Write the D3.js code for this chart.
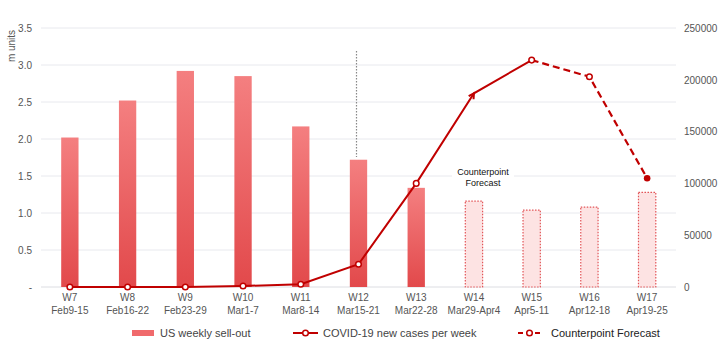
<!DOCTYPE html>
<html><head><meta charset="utf-8">
<script src="https://cdn.jsdelivr.net/npm/d3@7"></script>
<style>body{margin:0;background:#fff;}svg{display:block;font-family:"Liberation Sans",Arial,sans-serif;}</style>
</head><body><svg id="c" width="720" height="357"></svg>
<script>
const weeks = ["W7","W8","W9","W10","W11","W12","W13","W14","W15","W16","W17"];
const dates = ["Feb9-15","Feb16-22","Feb23-29","Mar1-7","Mar8-14","Mar15-21","Mar22-28","Mar29-Apr4","Apr5-11","Apr12-18","Apr19-25"];
const sellOut = [2.02,2.52,2.92,2.85,2.17,1.72,1.34,1.16,1.04,1.08,1.28];
const forecastBar = [false,false,false,false,false,false,false,true,true,true,true];
const covidCases = [0,0,0,1000,2600,22000,100000,187000,219000,203000,105000];
const leftTicks = [0,0.5,1.0,1.5,2.0,2.5,3.0,3.5];
const rightTicks = [0,50000,100000,150000,200000,250000];
const solidEnd = 8; // index where forecast line starts

const svg = d3.select("#c");
const L=41,R=676,T=28,B=287;
const x = d3.scaleBand().domain(weeks).range([L,R]).paddingInner(0.7).paddingOuter(0.35);
const xc = d => x(d)+x.bandwidth()/2;
const y = d3.scaleLinear().domain([0,3.5]).range([B,T]);
const y2 = d3.scaleLinear().domain([0,250000]).range([B,T]);

const defs = svg.append("defs");
const g = defs.append("linearGradient").attr("id","bg").attr("x1",0).attr("y1",0).attr("x2",0).attr("y2",1);
g.append("stop").attr("offset","0%").attr("stop-color","#f47f80");
g.append("stop").attr("offset","100%").attr("stop-color","#e2494b");

// grid
svg.append("g").selectAll("line").data(leftTicks).join("line")
  .attr("x1",L).attr("x2",R).attr("y1",d=>y(d)).attr("y2",d=>y(d))
  .attr("stroke",d=>d===0?"#dcdde2":"#e8e9ee").attr("stroke-width",1);

// left axis
const la = svg.append("g").attr("transform",`translate(${L},0)`)
  .call(d3.axisLeft(y).tickValues(leftTicks).tickSize(0).tickPadding(9).tickFormat(d=>d===0?"-":d3.format(".1f")(d)));
la.select(".domain").remove();
la.selectAll("text").attr("fill","#555").attr("font-size","10px").style("font-family","Liberation Sans, Arial");
svg.append("text").attr("transform","translate(15,46) rotate(-90)").attr("text-anchor","middle")
  .attr("font-size","10px").attr("fill","#555").text("m units");

// right axis
const ra = svg.append("g").attr("transform",`translate(${R},0)`)
  .call(d3.axisRight(y2).tickValues(rightTicks).tickSize(0).tickPadding(8).tickFormat(d3.format("d")));
ra.select(".domain").remove();
ra.selectAll("text").attr("fill","#555").attr("font-size","10px").style("font-family","Liberation Sans, Arial");

// x labels
const xl = svg.append("g").selectAll("text").data(weeks).join("text")
  .attr("x",d=>xc(d)).attr("text-anchor","middle").attr("fill","#555").attr("font-size","10px");
xl.append("tspan").attr("x",d=>xc(d)).attr("y",301).text(d=>d);
xl.append("tspan").attr("x",d=>xc(d)).attr("y",314).text((d,i)=>dates[i]);

// bars
svg.append("g").selectAll("rect").data(weeks).join("rect")
  .attr("x",d=>x(d)).attr("width",x.bandwidth())
  .attr("y",(d,i)=>y(sellOut[i])).attr("height",(d,i)=>B-y(sellOut[i]))
  .attr("fill",(d,i)=>forecastBar[i]?"#fde3e3":"url(#bg)")
  .attr("stroke",(d,i)=>forecastBar[i]?"#e25558":"none")
  .attr("stroke-width",1.2).attr("stroke-dasharray",(d,i)=>forecastBar[i]?"1.5,1.5":null);

// dotted vertical line at W12
svg.append("line").attr("x1",xc("W12")-2).attr("x2",xc("W12")-2).attr("y1",51).attr("y2",157)
  .attr("stroke","#888").attr("stroke-width",1.2).attr("stroke-dasharray","1.5,1.5");

// annotation
const ann = svg.append("g");
ann.append("rect").attr("x",452).attr("y",164).attr("width",62).attr("height",26).attr("fill","#fff");
ann.append("text").attr("x",xc("W14")+9).attr("y",175).attr("text-anchor","middle").attr("font-size","9px").attr("fill","#111").text("Counterpoint");
ann.append("text").attr("x",xc("W14")+9).attr("y",186).attr("text-anchor","middle").attr("font-size","9px").attr("fill","#111").text("Forecast");

// lines
const pts = weeks.map((w,i)=>[xc(w),y2(covidCases[i])]);
const line = d3.line();
const red = "#c00000";
svg.append("path").attr("d",line(pts.slice(0,solidEnd+1))).attr("fill","none").attr("stroke",red).attr("stroke-width",2);
svg.append("path").attr("d",line(pts.slice(solidEnd))).attr("fill","none").attr("stroke",red).attr("stroke-width",2.2).attr("stroke-dasharray","7,4");

// markers
pts.forEach((p,i)=>{
  if(i===7){
    const a = Math.atan2(p[1]-pts[6][1], p[0]-pts[6][0]);
    const s=6;
    const p1=[p[0]-s*Math.cos(a-0.5),p[1]-s*Math.sin(a-0.5)];
    const p2=[p[0]-s*Math.cos(a+0.5),p[1]-s*Math.sin(a+0.5)];
    svg.append("path").attr("d",`M${p1}L${p}L${p2}`).attr("fill","none").attr("stroke",red).attr("stroke-width",2);
  } else if(i===10){
    svg.append("circle").attr("cx",p[0]).attr("cy",p[1]).attr("r",3.3).attr("fill",red);
  } else {
    svg.append("circle").attr("cx",p[0]).attr("cy",p[1]).attr("r",2.8).attr("fill","#fff").attr("stroke",red).attr("stroke-width",1.5);
  }
});

// legend
const lg = svg.append("g").attr("font-size","11px").attr("fill","#444");
lg.append("rect").attr("x",132).attr("y",330).attr("width",22).attr("height",6).attr("fill","#f06a6c");
lg.append("text").attr("x",160).attr("y",337).attr("fill","#444").text("US weekly sell-out");
lg.append("line").attr("x1",293).attr("x2",318).attr("y1",333).attr("y2",333).attr("stroke",red).attr("stroke-width",2);
lg.append("circle").attr("cx",305.5).attr("cy",333).attr("r",2.8).attr("fill","#fff").attr("stroke",red).attr("stroke-width",1.5);
lg.append("text").attr("x",323).attr("y",337).attr("fill","#444").text("COVID-19 new cases per week");
lg.append("line").attr("x1",518).attr("x2",541).attr("y1",333).attr("y2",333).attr("stroke",red).attr("stroke-width",2).attr("stroke-dasharray","5,3.5");
lg.append("circle").attr("cx",529.5).attr("cy",333).attr("r",2.8).attr("fill","#fff").attr("stroke",red).attr("stroke-width",1.5);
lg.append("text").attr("x",551).attr("y",337).attr("fill","#222").text("Counterpoint Forecast");
</script></body></html>
